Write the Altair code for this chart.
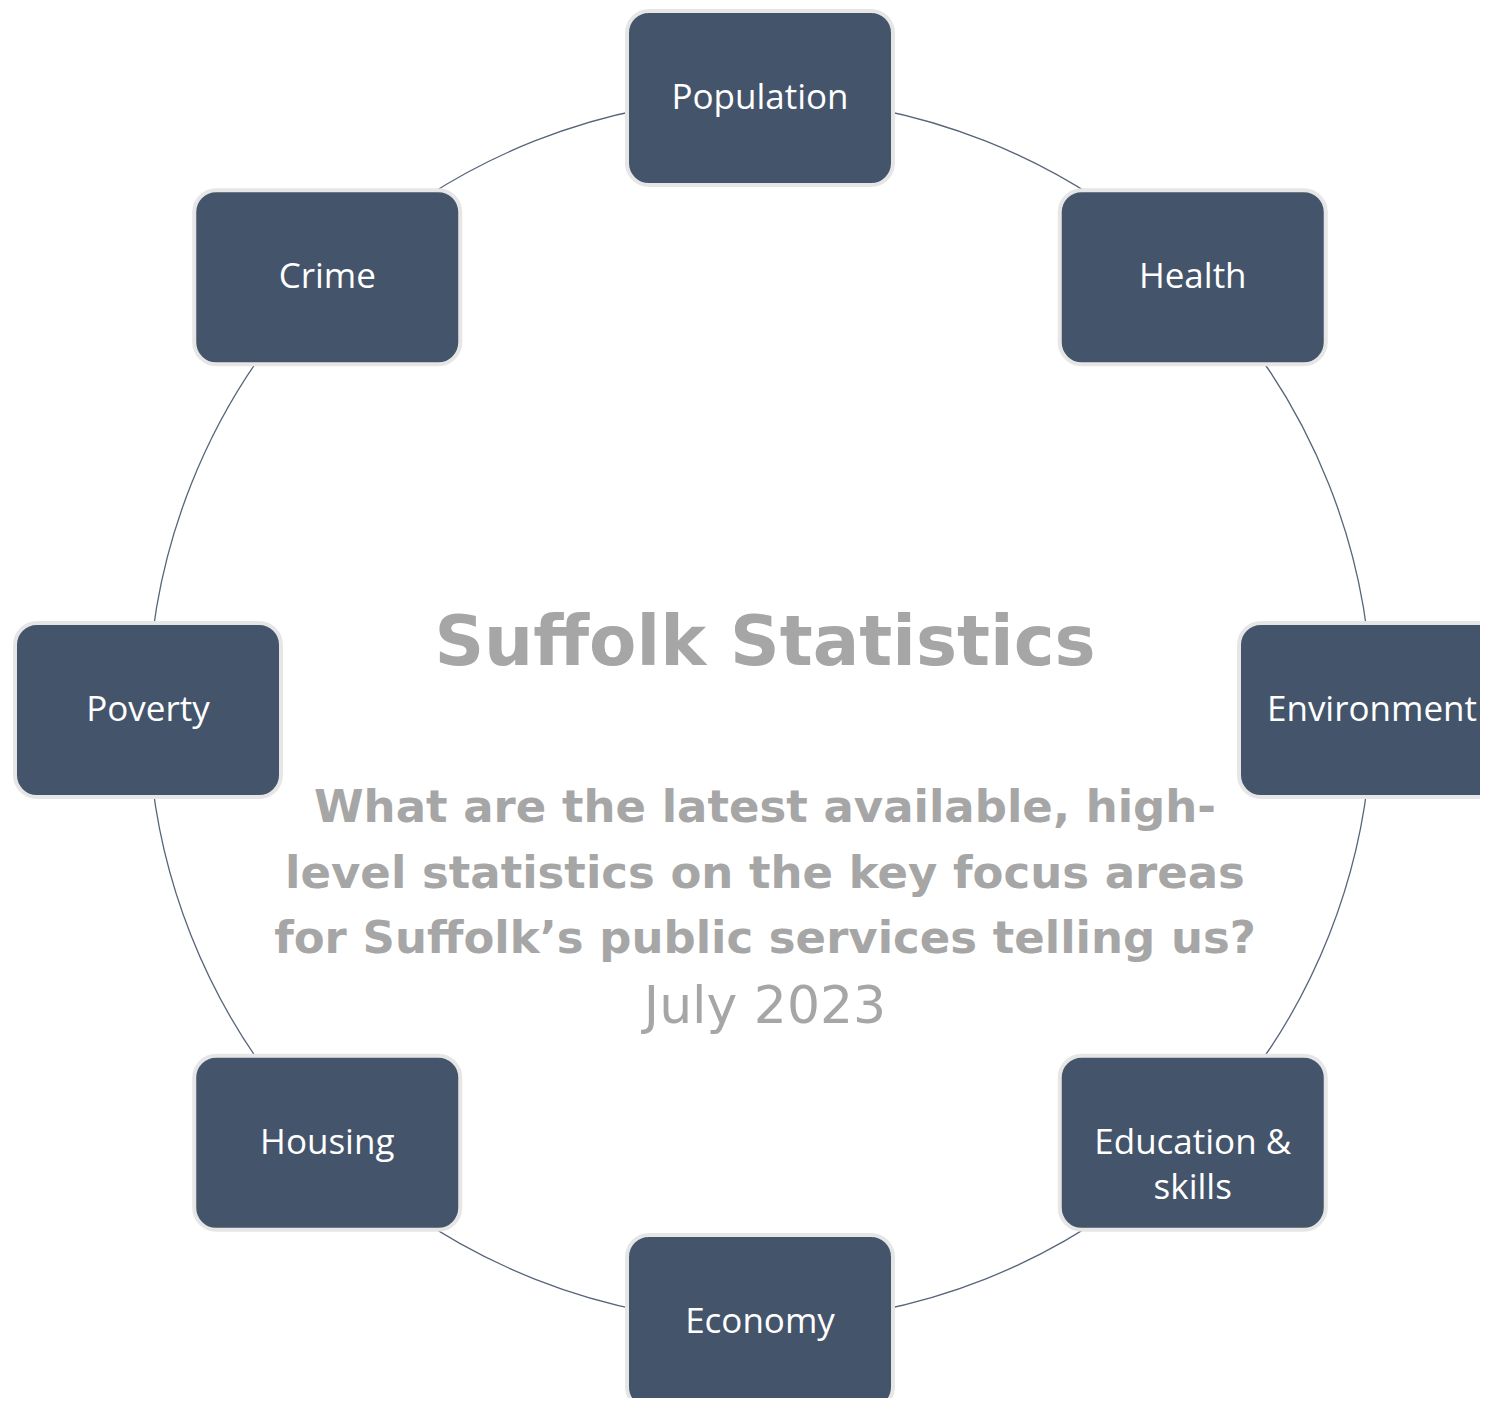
import altair as alt
import pandas as pd

# ---- data ----
topics = ["Population", "Health", "Environment", "Education &\nskills",
          "Economy", "Housing", "Poverty", "Crime"]
order = list(range(len(topics)))          # clockwise from the top
title_text = "Suffolk Statistics"
subtitle_lines = ["What are the latest available, high-",
                  "level statistics on the key focus areas",
                  "for Suffolk\u2019s public services telling us?"]
date_text = "July 2023"

W, H = 1472, 1390
R = 612
BOX_W, BOX_H = 266, 174
NAVY = "#44546a"
GREY = "#a6a6a6"

nodes = pd.DataFrame({"topic": topics, "i": order})

xs = alt.Scale(domain=[-752, 720])
ys = alt.Scale(domain=[-702, 688], reverse=True)

base = alt.Chart(nodes).transform_calculate(
    cx=f"{R}*sin(datum.i*PI/4)",
    cy=f"-{R}*cos(datum.i*PI/4)",
).transform_calculate(
    x0=f"datum.cx-{BOX_W/2}", x1=f"datum.cx+{BOX_W/2}",
    y0=f"datum.cy-{BOX_H/2}", y1=f"datum.cy+{BOX_H/2}",
)

ring = alt.Chart(pd.DataFrame({"x": [0], "y": [0]})).mark_point(
    shape="circle", filled=False, size=(2 * R) ** 2,
    stroke="#56657a", strokeWidth=1.3, opacity=1
).encode(
    x=alt.X("x:Q", scale=xs, axis=None),
    y=alt.Y("y:Q", scale=ys, axis=None),
)

boxes = base.mark_rect(
    fill=NAVY, stroke="#e6e6e6", strokeWidth=4, cornerRadius=22
).encode(
    x=alt.X("x0:Q", scale=xs, axis=None), x2="x1:Q",
    y=alt.Y("y0:Q", scale=ys, axis=None), y2="y1:Q",
)

labels = base.mark_text(
    font="Open Sans", fontSize=35, color="white", baseline="middle",
    align="center", lineBreak="\n", lineHeight=45
).encode(
    x=alt.X("cx:Q", scale=xs, axis=None),
    y=alt.Y("cy:Q", scale=ys, axis=None),
    text="topic:N",
)

title = alt.Chart(pd.DataFrame({"t": [title_text]})).mark_text(
    font="DejaVu Sans", fontWeight="bold", fontSize=69, color=GREY,
    align="center", baseline="alphabetic"
).encode(x=alt.value(757), y=alt.value(657), text="t:N")

subtitle = alt.Chart(pd.DataFrame({"t": [0]})).mark_text(
    font="DejaVu Sans", fontWeight="bold", fontSize=45, color=GREY,
    align="center", baseline="alphabetic", lineHeight=65.5
).encode(x=alt.value(757), y=alt.value(814), text=alt.value(subtitle_lines))

date = alt.Chart(pd.DataFrame({"t": [date_text]})).mark_text(
    font="DejaVu Sans", fontSize=52, color=GREY,
    align="center", baseline="alphabetic"
).encode(x=alt.value(757), y=alt.value(1015), text="t:N")

chart = alt.layer(ring, boxes, labels, title, subtitle, date).properties(
    width=W, height=H, autosize=alt.AutoSizeParams(type="none"), padding=0
).configure_view(stroke=None)

chart.save("out.html", embed_options={"renderer": "svg", "actions": False})
